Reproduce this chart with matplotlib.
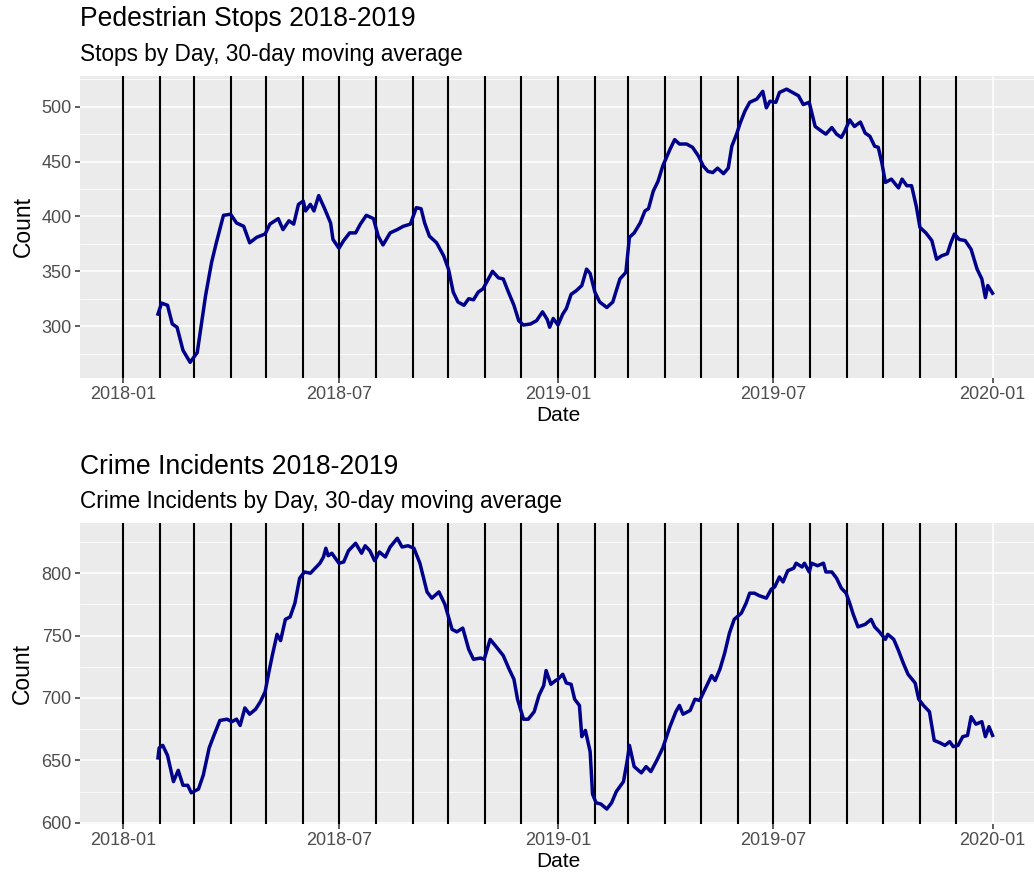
import pandas as pd
import matplotlib
matplotlib.use("Agg")
import matplotlib.pyplot as plt

plt.rcParams['font.family'] = ['Liberation Sans', 'DejaVu Sans']

start = pd.Timestamp("2018-01-01")

# 30-day moving averages (days since 2018-01-01)
stops_days = [29, 32, 37, 41, 45, 50, 56, 62, 69, 74, 78, 84, 90, 95, 101, 106, 112, 119, 123, 130,
              134, 139, 143, 147, 151, 153, 157, 160, 164, 169, 174, 176, 181, 185, 190, 195, 199, 204, 210, 214,
              218, 224, 230, 235, 241, 246, 250, 253, 257, 263, 269, 273, 277, 281, 286, 290, 294, 298, 302, 307,
              310, 315, 319, 323, 328, 332, 336, 342, 347, 352, 356, 358, 361, 365, 369, 372, 376, 380, 385, 389,
              392, 396, 400, 406, 411, 417, 422, 425, 429, 434, 438, 441, 445, 449, 453, 459, 463, 467, 473, 478,
              483, 487, 491, 495, 499, 504, 508, 511, 515, 518, 522, 526, 532, 537, 540, 543, 548, 551, 557, 562,
              567, 571, 576, 581, 586, 590, 595, 599, 603, 606, 610, 614, 619, 623, 627, 631, 634, 637, 640, 645,
              651, 654, 658, 662, 666, 669, 674, 679, 683, 687, 692, 695, 698, 702, 707, 712, 717, 721, 724, 726,
              730]
stops_vals = [311, 321, 319, 302, 299, 278, 267, 276, 328, 358, 376, 401, 402, 394, 391, 376, 381, 384, 393, 398,
              388, 396, 393, 411, 414, 405, 411, 405, 419, 407, 394, 379, 371, 378, 385, 385, 393, 401, 398, 382,
              374, 385, 388, 391, 393, 408, 407, 394, 382, 376, 364, 352, 331, 322, 319, 325, 324, 331, 334, 344,
              350, 344, 343, 332, 319, 305, 301, 302, 305, 313, 306, 299, 307, 301, 311, 316, 329, 332, 337, 352,
              348, 331, 322, 317, 322, 343, 349, 381, 385, 394, 405, 407, 423, 432, 446, 461, 470, 466, 466, 463,
              455, 446, 441, 440, 444, 439, 444, 464, 475, 485, 496, 504, 507, 514, 499, 505, 504, 513, 516, 513,
              510, 502, 504, 482, 478, 475, 481, 475, 472, 478, 488, 482, 486, 476, 473, 464, 463, 449, 431, 434,
              426, 434, 428, 428, 409, 390, 385, 378, 361, 364, 366, 376, 384, 379, 378, 370, 352, 343, 326, 337,
              330]

crime_days = [29, 30, 33, 37, 42, 46, 50, 54, 57, 63, 67, 72, 76, 81, 87, 91, 95, 98, 102, 106,
              111, 115, 119, 122, 125, 129, 132, 136, 140, 144, 148, 152, 157, 161, 165, 168, 170, 172, 175, 181,
              185, 189, 195, 200, 203, 207, 211, 215, 220, 224, 230, 234, 239, 244, 249, 255, 259, 265, 270, 276,
              280, 285, 290, 294, 300, 303, 308, 314, 319, 324, 328, 331, 336, 340, 345, 349, 353, 355, 359, 363,
              365, 369, 372, 376, 379, 383, 385, 388, 392, 394, 397, 401, 406, 410, 414, 420, 423, 425, 429, 435,
              439, 443, 448, 453, 459, 464, 467, 470, 476, 480, 484, 490, 494, 497, 501, 505, 509, 513, 519, 523,
              526, 530, 534, 540, 544, 547, 551, 554, 558, 563, 565, 570, 572, 576, 578, 583, 588, 590, 595, 599,
              603, 607, 610, 613, 617, 623, 628, 631, 635, 640, 642, 647, 651, 655, 659, 665, 668, 672, 677, 681,
              686, 690, 694, 697, 701, 705, 709, 712, 716, 721, 724, 727, 730]
crime_vals = [652, 660, 662, 654, 633, 642, 630, 630, 624, 627, 638, 660, 670, 682, 683, 681, 683, 678, 692, 687,
              691, 697, 705, 720, 734, 751, 746, 763, 765, 776, 796, 801, 800, 804, 808, 813, 820, 814, 816, 808,
              809, 818, 824, 816, 822, 818, 810, 817, 813, 821, 828, 821, 822, 820, 808, 785, 780, 785, 775, 755,
              753, 756, 739, 731, 732, 731, 747, 740, 734, 723, 715, 699, 683, 683, 689, 702, 710, 722, 711, 714,
              715, 719, 712, 711, 699, 694, 669, 674, 657, 623, 616, 615, 611, 616, 625, 633, 649, 662, 645, 640,
              645, 641, 650, 660, 677, 689, 694, 687, 690, 699, 698, 710, 718, 714, 723, 736, 752, 763, 768, 776,
              784, 784, 782, 780, 787, 789, 797, 793, 802, 804, 808, 805, 808, 801, 808, 806, 808, 801, 801, 796,
              788, 784, 776, 767, 757, 759, 763, 757, 753, 747, 751, 747, 738, 728, 719, 712, 699, 694, 689, 666,
              664, 662, 665, 661, 662, 669, 670, 685, 679, 681, 669, 677, 670]

month_lines = pd.date_range("2018-01-01", "2019-12-01", freq="MS")
x_ticks = pd.to_datetime(["2018-01-01", "2018-07-01", "2019-01-01", "2019-07-01", "2020-01-01"])
x_minor = pd.to_datetime(["2018-04-01", "2018-10-01", "2019-04-01", "2019-10-01"])
x_labels = ["2018-01", "2018-07", "2019-01", "2019-07", "2020-01"]

panels = [
    dict(title="Pedestrian Stops 2018-2019", sub="Stops by Day, 30-day moving average",
         days=stops_days, vals=stops_vals, yt=[300, 350, 400, 450, 500],
         ym=[275, 325, 375, 425, 475, 525], ylim=(253, 528)),
    dict(title="Crime Incidents 2018-2019", sub="Crime Incidents by Day, 30-day moving average",
         days=crime_days, vals=crime_vals, yt=[600, 650, 700, 750, 800],
         ym=[625, 675, 725, 775, 825], ylim=(599, 840)),
]

W, H = 1034, 881
fig = plt.figure(figsize=(W / 100, H / 100), dpi=100)

# panel boxes in pixels: left, top, right, bottom
boxes = [(80, 76, 1036, 377.7), (80, 523.3, 1036, 824)]
titles_y = [(26, 60.7), (474.3, 507.7)]

for p, (l, t, r, b), (ty, sy) in zip(panels, boxes, titles_y):
    ax = fig.add_axes([l / W, 1 - b / H, (r - l) / W, (b - t) / H])
    ax.set_facecolor("#EBEBEB")
    for s in ax.spines.values():
        s.set_visible(False)

    dates = start + pd.to_timedelta(p["days"], unit="D")
    ax.set_xlim(start - pd.Timedelta(days=36.5), start + pd.Timedelta(days=766.5))
    ax.set_ylim(*p["ylim"])

    ax.set_xticks(x_ticks)
    ax.set_xticklabels(x_labels)
    ax.set_xticks(x_minor, minor=True)
    ax.set_yticks(p["yt"])
    ax.set_yticks(p["ym"], minor=True)
    ax.grid(True, which="major", color="white", lw=1.1)
    ax.grid(True, which="minor", color="white", lw=0.55)
    ax.set_axisbelow(True)
    ax.tick_params(which="major", length=3.5, width=1.1, color="#333333",
                   labelcolor="#4D4D4D", labelsize=13, pad=2.5)
    ax.tick_params(which="minor", length=0)

    for m in month_lines:
        ax.axvline(m, color="black", lw=1.5, zorder=2)
    ax.plot(dates, p["vals"], color="#00008B", lw=2.5, zorder=3)

    ax.set_xlabel("Date", fontsize=15, labelpad=2)
    ax.set_ylabel("Count", fontsize=16.5, labelpad=5)

    fig.text(l / W, 1 - ty / H, p["title"], fontsize=19.1, va="baseline", ha="left")
    fig.text(l / W, 1 - sy / H, p["sub"], fontsize=16.3, va="baseline", ha="left")

fig.savefig("out.png", dpi=100)
